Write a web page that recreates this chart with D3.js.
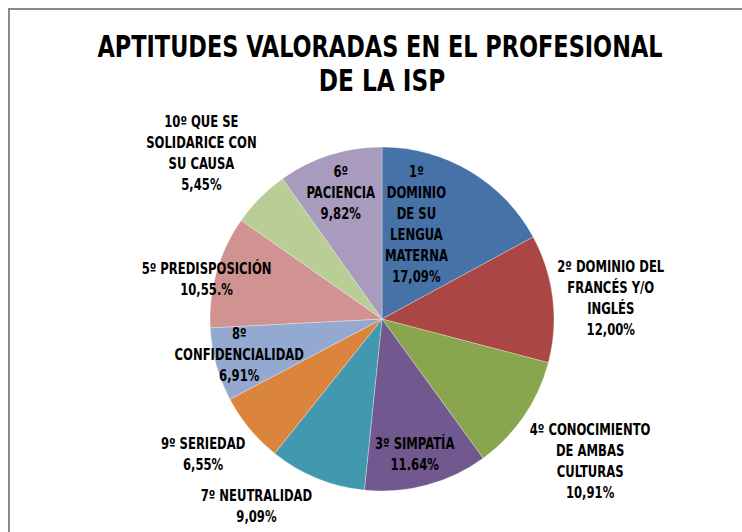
<!DOCTYPE html>
<html>
<head>
<meta charset="utf-8">
<script src="https://cdn.jsdelivr.net/npm/d3@7"></script>
<style>
    body { margin: 0; background: #fff; }
    text { font-family: "DejaVu Sans Condensed", "Liberation Sans", sans-serif; font-weight: bold; fill: #000; }
</style>
</head>
<body>
<div id="chart"></div>
<script>
// slices, clockwise from 12 o'clock
const categories = ["1º DOMINIO DE SU LENGUA MATERNA", "2º DOMINIO DEL FRANCÉS Y/O INGLÉS",
    "4º CONOCIMIENTO DE AMBAS CULTURAS", "3º SIMPATÍA", "7º NEUTRALIDAD", "9º SERIEDAD",
    "8º CONFIDENCIALIDAD", "5º PREDISPOSICIÓN", "10º QUE SE SOLIDARICE CON SU CAUSA", "6º PACIENCIA"]
const values = [17.09, 12.00, 10.91, 11.64, 9.09, 6.55, 6.91, 10.55, 5.45, 9.82]
const valueLabels = ["17,09%", "12,00%", "10,91%", "11.64%", "9,09%", "6,55%", "6,91%", "10,55.%", "5,45%", "9,82%"]
// how the label text wraps, as in the original
const labelLines = [
    ["1º", "DOMINIO", "DE SU", "LENGUA", "MATERNA"],
    ["2º DOMINIO DEL", "FRANCÉS Y/O", "INGLÉS"],
    ["4º CONOCIMIENTO", "DE AMBAS", "CULTURAS"],
    ["3º SIMPATÍA"],
    ["7º NEUTRALIDAD"],
    ["9º SERIEDAD"],
    ["8º", "CONFIDENCIALIDAD"],
    ["5º PREDISPOSICIÓN"],
    ["10º QUE SE", "SOLIDARICE CON", "SU CAUSA"],
    ["6º", "PACIENCIA"]
]
const colors = ["#4672A8", "#AA4643", "#89A54E", "#71588F", "#4198AF", "#DB843D", "#93A9CF", "#D19392", "#B9CD96", "#A99BBD"]

// label block centres, relative to the pie centre in radius units
const labelSpots = [
    [0.20, -0.55], [1.33, -0.12], [1.21, 0.83], [0.19, 0.79], [-0.73, 1.09],
    [-1.04, 0.79], [-0.83, 0.21], [-1.02, -0.23], [-1.05, -0.96], [-0.24, -0.73]
]

const W = 742, H = 532
const cx = 382, cy = 319, radius = 172
const lineH = 21
const squeeze = 0.86   // Calibri is narrower than what we have

const svg = d3.select("#chart").append("svg")
    .attr("width", W)
    .attr("height", H)

// chart frame
svg.append("rect")
    .attr("x", 9).attr("y", 9)
    .attr("width", W + 20).attr("height", H + 20)
    .attr("fill", "#fff")
    .attr("stroke", "#8a8a8a")
    .attr("stroke-width", 2)

function narrow(sel) {
    sel.each(function () {
        const len = this.getComputedTextLength()
        d3.select(this)
            .attr("textLength", len * squeeze)
            .attr("lengthAdjust", "spacingAndGlyphs")
    })
}

svg.append("text")
    .attr("x", 380).attr("y", 57)
    .attr("text-anchor", "middle")
    .style("font-size", "30px")
    .attr("textLength", 565)
    .attr("lengthAdjust", "spacingAndGlyphs")
    .text("APTITUDES VALORADAS EN EL PROFESIONAL")
svg.append("text")
    .attr("x", 382).attr("y", 91)
    .attr("text-anchor", "middle")
    .style("font-size", "30px")
    .text("DE LA ISP")
    .call(narrow)

const pie = d3.pie().sort(null).value(d => d)
const arc = d3.arc().innerRadius(0).outerRadius(radius)
const arcs = pie(values)

const g = svg.append("g")
    .attr("transform", "translate(" + cx + "," + cy + ")")

g.selectAll("path")
    .data(arcs)
    .enter()
    .append("path")
    .attr("d", arc)
    .attr("fill", (d, i) => colors[i])
    .attr("stroke", "#ffffff")
    .attr("stroke-opacity", 0.5)
    .attr("stroke-width", 0.6)

g.selectAll(".lbl")
    .data(arcs)
    .enter()
    .append("g")
    .attr("class", "lbl")
    .each(function (d, i) {
        const lines = labelLines[i].concat([valueLabels[i]])
        const x = labelSpots[i][0] * radius
        const y = labelSpots[i][1] * radius - (lines.length - 1) * lineH / 2 + 5
        const grp = d3.select(this)
        lines.forEach((ln, k) => {
            grp.append("text")
                .attr("x", x)
                .attr("y", y + k * lineH)
                .attr("text-anchor", "middle")
                .style("font-size", "15px")
                .text(ln)
                .call(narrow)
        })
    })
</script>
</body>
</html>
